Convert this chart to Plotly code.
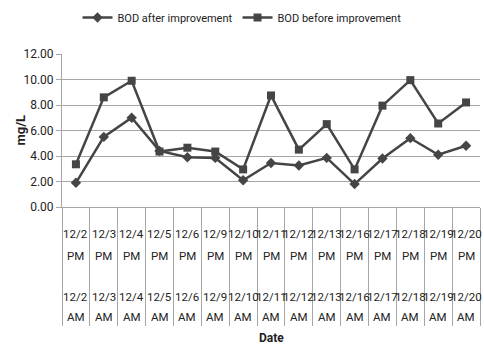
import plotly.graph_objects as go

dates = ["12/2", "12/3", "12/4", "12/5", "12/6", "12/9", "12/10", "12/11",
         "12/12", "12/13", "12/16", "12/17", "12/18", "12/19", "12/20"]
bod_after = [1.9, 5.5, 7.0, 4.4, 3.9, 3.85, 2.1, 3.45, 3.25, 3.85, 1.8, 3.8, 5.4, 4.1, 4.8]
bod_before = [3.35, 8.6, 9.9, 4.35, 4.65, 4.35, 2.95, 8.75, 4.5, 6.5, 2.95, 7.95, 9.95, 6.55, 8.2]
y_ticks = [0, 2, 4, 6, 8, 10, 12]

FONT = "Roboto, Liberation Sans, sans-serif"
LINE = "#454545"
GRID = "#a6a6a6"
TXT = "#222222"

W, H = 484, 344
L, R, T, B = 62, 4, 54, 137
PW = W - L - R

fig = go.Figure()
fig.add_trace(go.Scatter(x=dates, y=bod_after, mode="lines+markers",
                         name="BOD after improvement",
                         line=dict(color=LINE, width=2.5),
                         marker=dict(symbol="diamond", size=8, color=LINE)))
fig.add_trace(go.Scatter(x=dates, y=bod_before, mode="lines+markers",
                         name="BOD before improvement",
                         line=dict(color=LINE, width=2.5),
                         marker=dict(symbol="square", size=8, color=LINE)))

annotations = []
for d in dates:
    for txt, dy in [(d, 27), ("PM", 49), (d, 90), ("AM", 110)]:
        annotations.append(dict(x=d, xref="x", y=0, yref="paper", yshift=-dy,
                                text=txt, showarrow=False, yanchor="middle",
                                font=dict(family=FONT, size=11.5, color=TXT)))
annotations.append(dict(x=0.5, xref="paper", y=0, yref="paper", yshift=-131,
                        text="<b>Date</b>", showarrow=False, yanchor="middle",
                        font=dict(family=FONT, size=12, color=TXT)))
annotations.append(dict(x=-42 / PW, xref="paper", y=0.5, yref="paper",
                        text="<b>mg/L</b>", showarrow=False, textangle=-90,
                        xanchor="center", yanchor="middle",
                        font=dict(family=FONT, size=13, color=TXT)))

fig.update_layout(
    width=W, height=H,
    margin=dict(l=L, r=R, t=T, b=B, autoexpand=False),
    paper_bgcolor="white", plot_bgcolor="white",
    font=dict(family=FONT, size=12, color=TXT),
    showlegend=True,
    legend=dict(orientation="h", xref="container", yref="container",
                x=0.5, xanchor="center", y=1 - 3 / H, yanchor="top",
                font=dict(family=FONT, size=11, color=TXT),
                itemwidth=30, tracegroupgap=0),
    annotations=annotations,
    xaxis=dict(type="category", range=[-0.5, 14.5], showgrid=False,
               showticklabels=False, ticks="outside", tickson="boundaries",
               ticklen=118, tickcolor=GRID, tickwidth=1,
               showline=True, linecolor=GRID, linewidth=1, zeroline=False),
    yaxis=dict(range=[0, 12], tickvals=y_ticks,
               ticktext=[f"{v:.2f}" for v in y_ticks],
               showgrid=True, gridcolor=GRID, gridwidth=1,
               ticks="outside", ticklen=5, tickcolor=GRID,
               showline=True, linecolor=GRID, zeroline=False,
               tickfont=dict(family=FONT, size=12, color=TXT)),
)

fig.write_html("out.html",
               config={"displayModeBar": False},
               post_script="document.body.style.margin='0px';"
                           "document.body.style.overflow='hidden';")
